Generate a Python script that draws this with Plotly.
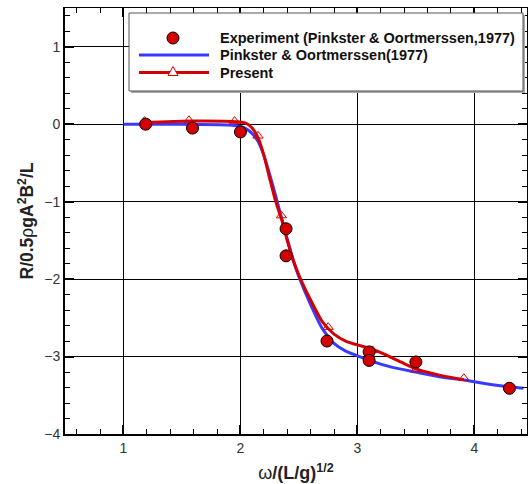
import plotly.graph_objects as go

# Experiment (Pinkster & Oortmerssen, 1977)
exp_x = [1.19, 1.59, 2.00, 2.39, 2.39, 2.74, 3.10, 3.10, 3.50, 4.30]
exp_y = [0.00, -0.05, -0.10, -1.35, -1.70, -2.80, -2.94, -3.05, -3.07, -3.41]

# Pinkster & Oortmerssen (1977) curve
pk_x = [1.00, 1.50, 1.90, 2.00, 2.05, 2.10, 2.15, 2.20, 2.25, 2.30, 2.35, 2.40, 2.45,
        2.50, 2.60, 2.70, 2.80, 2.90, 3.00, 3.10, 3.30, 3.50, 3.70, 3.90, 4.10, 4.30, 4.42]
pk_y = [0.00, 0.00, -0.01, -0.03, -0.06, -0.12, -0.22, -0.40, -0.65, -0.92, -1.20, -1.48, -1.75,
        -1.97, -2.33, -2.64, -2.83, -2.93, -2.99, -3.05, -3.14, -3.20, -3.26, -3.30, -3.35, -3.39, -3.41]

# Present curve
pr_x = [1.17, 1.57, 1.97, 2.05, 2.10, 2.15, 2.20, 2.25, 2.30, 2.35, 2.40, 2.45, 2.50,
        2.60, 2.70, 2.80, 2.90, 3.00, 3.10, 3.20, 3.37, 3.50, 3.70, 3.91]
pr_y = [0.02, 0.04, 0.03, 0.01, -0.05, -0.17, -0.40, -0.70, -0.99, -1.22, -1.50, -1.75, -1.95,
        -2.27, -2.55, -2.71, -2.80, -2.85, -2.89, -2.95, -3.07, -3.16, -3.24, -3.30]

# Present markers
tri_x = [1.18, 1.56, 1.95, 2.15, 2.35, 2.75, 3.13, 3.50, 3.91]
tri_y = [0.04, 0.05, 0.04, -0.15, -1.18, -2.62, -2.92, -3.17, -3.28]

legend_names = ["Experiment (Pinkster & Oortmerssen,1977)",
                "Pinkster & Oortmerssen(1977)",
                "Present"]

RED = "#d40000"
BLUE = "#3a3aff"
FONT = "Liberation Sans, Arial"

fig = go.Figure()
fig.add_trace(go.Scatter(
    x=pk_x, y=pk_y, mode="lines", name=legend_names[1], showlegend=False,
    line=dict(color=BLUE, width=3, shape="spline", smoothing=0.6)))
fig.add_trace(go.Scatter(
    x=pr_x, y=pr_y, mode="lines", name=legend_names[2], showlegend=False,
    line=dict(color=RED, width=3, shape="spline", smoothing=0.6)))
fig.add_trace(go.Scatter(
    x=tri_x, y=tri_y, mode="markers", name=legend_names[2], showlegend=False,
    marker=dict(symbol="triangle-up-open", size=9, color=RED, line=dict(width=1))))
fig.add_trace(go.Scatter(
    x=exp_x, y=exp_y, mode="markers", name=legend_names[0], showlegend=False,
    marker=dict(symbol="circle", size=12, color=RED, line=dict(color="black", width=1))))

axis_common = dict(
    showline=True, linecolor="black", linewidth=2,
    ticks="inside", ticklen=9, tickwidth=1.5, tickcolor="black",
    zeroline=False,
    tickfont=dict(family=FONT, size=14, color="#333"),
    minor=dict(ticks="inside", ticklen=5, tickwidth=1, tickcolor="black", dtick=0.2, showgrid=False),
)
XR = [0.5, 4.45]
YR = [-4, 1.5]

fig.update_layout(
    xaxis=dict(range=XR, dtick=1, tick0=0, showgrid=True, gridcolor="black", gridwidth=1,
               title=dict(text="ω<b>/(L/g)<sup>1/2</sup></b>", standoff=12,
                          font=dict(family=FONT, size=18, color="#222")),
               **axis_common),
    yaxis=dict(range=YR, dtick=1, tick0=0, showgrid=True, gridcolor="black", gridwidth=1,
               title=dict(text="<b>R/0.5</b>ρ<b>gA<sup>2</sup>B<sup>2</sup>/L</b>", standoff=6,
                          font=dict(family=FONT, size=17.5, color="#222")),
               **axis_common),
    xaxis2=dict(overlaying="x", side="top", range=XR, dtick=1, tick0=0, showgrid=False,
                showticklabels=False, showline=True, linecolor="black", linewidth=1,
                ticks="inside", ticklen=9, tickwidth=1.5, tickcolor="black", zeroline=False,
                minor=dict(ticks="inside", ticklen=5, tickwidth=1, tickcolor="black", dtick=0.2)),
    yaxis2=dict(overlaying="y", side="right", range=YR, dtick=1, tick0=0, showgrid=False,
                showticklabels=False, showline=True, linecolor="black", linewidth=1,
                ticks="inside", ticklen=9, tickwidth=1.5, tickcolor="black", zeroline=False,
                minor=dict(ticks="inside", ticklen=5, tickwidth=1, tickcolor="black", dtick=0.2)),
)
# invisible trace to activate the mirror axes
fig.add_trace(go.Scatter(x=[None], y=[None], xaxis="x2", yaxis="y2", showlegend=False,
                         hoverinfo="skip"))

fig.update_layout(
    width=532, height=484,
    margin=dict(l=65, r=5, t=8, b=50),
    plot_bgcolor="white", paper_bgcolor="white",
    showlegend=False,
)

# ---- legend drawn in paper coordinates ----
L, T, W, H = 65, 8, 462, 426
def px(x):
    return (x - L) / W
def py(y):
    return (T + H - y) / H

shapes = []
# shadow and box
shapes.append(dict(type="rect", xref="paper", yref="paper", x0=px(131), x1=px(525),
                   y0=py(93), y1=py(15), fillcolor="#a8a8a8", line=dict(width=0), layer="above"))
shapes.append(dict(type="rect", xref="paper", yref="paper", x0=px(129), x1=px(523),
                   y0=py(91), y1=py(13), fillcolor="white", line=dict(color="#555", width=1),
                   layer="above"))
rows = [38, 55, 72.5]
# line samples
shapes.append(dict(type="line", xref="paper", yref="paper", x0=px(139), x1=px(209),
                   y0=py(rows[1]), y1=py(rows[1]), line=dict(color=BLUE, width=3), layer="above"))
shapes.append(dict(type="line", xref="paper", yref="paper", x0=px(139), x1=px(209),
                   y0=py(rows[2]), y1=py(rows[2]), line=dict(color=RED, width=3), layer="above"))
# circle symbol
shapes.append(dict(type="circle", xref="paper", yref="paper", xsizemode="pixel", ysizemode="pixel",
                   xanchor=px(173), yanchor=py(rows[0]), x0=-6, x1=6, y0=-6, y1=6,
                   fillcolor=RED, line=dict(color="black", width=1), layer="above"))
# triangle symbol
shapes.append(dict(type="path", xref="paper", yref="paper", xsizemode="pixel", ysizemode="pixel",
                   xanchor=px(173), yanchor=py(rows[2] - 1), path="M -5,-4 L 5,-4 L 0,5 Z",
                   fillcolor="white", line=dict(color=RED, width=1), layer="above"))
fig.update_layout(shapes=shapes)

for name, r in zip(legend_names, rows):
    fig.add_annotation(xref="paper", yref="paper", x=px(218), y=py(r), xanchor="left",
                       yanchor="middle", showarrow=False, text="<b>" + name + "</b>",
                       font=dict(family=FONT, size=14.5, color="#111"))

fig.write_html("out.html")
